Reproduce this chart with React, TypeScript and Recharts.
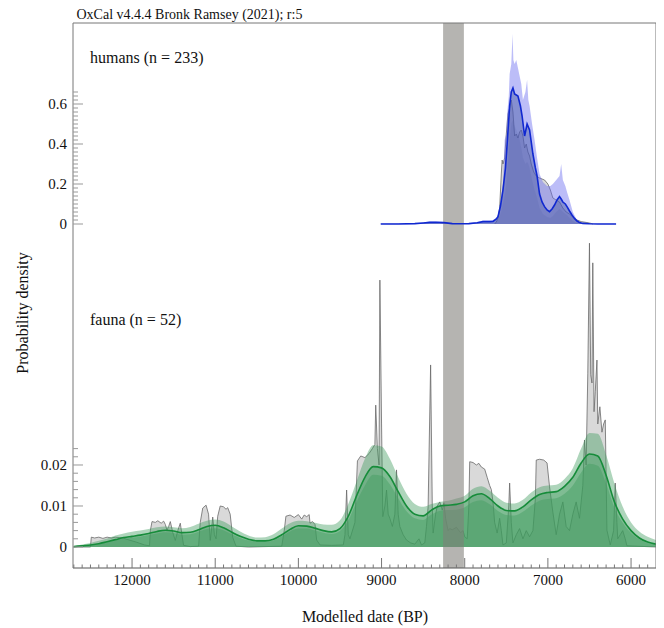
import React from 'react';
import { ComposedChart, Area, Line, XAxis, YAxis, ReferenceArea } from 'recharts';

// ---------- fauna KDE (100-yr grid) ----------
const faunaKdeBP = [
  12700, 12600, 12500, 12400, 12300, 12200, 12100, 12000, 11900, 11800,
  11700, 11600, 11500, 11400, 11300, 11200, 11100, 11000, 10900, 10800,
  10700, 10600, 10500, 10400, 10300, 10200, 10100, 10000, 9900, 9800,
  9700, 9600, 9500, 9400, 9300, 9200, 9100, 9000, 8900, 8800,
  8700, 8600, 8500, 8400, 8300, 8200, 8100, 8000, 7900, 7800,
  7700, 7600, 7500, 7400, 7300, 7200, 7100, 7000, 6900, 6800,
  6700, 6600, 6500, 6400, 6300, 6200, 6100, 6000, 5900, 5800, 5700,
];
const faunaMean = [
  0.0001, 0.0003, 0.0005, 0.0008, 0.0013, 0.0018, 0.0023, 0.0026, 0.0029, 0.0033,
  0.0038, 0.0041, 0.0039, 0.0035, 0.0036, 0.0042, 0.005, 0.0053, 0.0047, 0.0036,
  0.0026, 0.0019, 0.0015, 0.0015, 0.0019, 0.003, 0.0043, 0.0052, 0.0051, 0.0046,
  0.004, 0.0037, 0.0045, 0.0075, 0.0125, 0.017, 0.0196, 0.0193, 0.0172, 0.0135,
  0.01, 0.008, 0.0076, 0.009, 0.01, 0.0102, 0.0104, 0.011, 0.0125, 0.013,
  0.0118, 0.01, 0.0089, 0.0088, 0.0098, 0.0115, 0.0128, 0.0133, 0.0135, 0.0148,
  0.017, 0.0205, 0.0227, 0.0222, 0.0175, 0.011, 0.0068, 0.004, 0.0022, 0.0012, 0.0007,
];
const faunaHi = [
  0.0002, 0.0006, 0.001, 0.0015, 0.0021, 0.0028, 0.0033, 0.0037, 0.004, 0.0044,
  0.0048, 0.005, 0.0048, 0.0046, 0.0049, 0.0057, 0.0064, 0.0067, 0.0062, 0.005,
  0.0038, 0.0028, 0.0023, 0.0024, 0.0031, 0.0045, 0.0058, 0.0064, 0.0063, 0.0059,
  0.0055, 0.0054, 0.0065, 0.0105, 0.016, 0.0215, 0.0248, 0.0245, 0.0215, 0.017,
  0.013, 0.0105, 0.0098, 0.0105, 0.011, 0.0113, 0.0118, 0.0125, 0.0142, 0.0148,
  0.0137, 0.012, 0.0108, 0.0106, 0.0115, 0.0133, 0.0146, 0.015, 0.0152, 0.0166,
  0.0192, 0.024, 0.0278, 0.0276, 0.0225, 0.0155, 0.0098, 0.006, 0.0038, 0.0025, 0.0017,
];
const faunaLo = [
  0.0001, 0.0002, 0.0004, 0.0007, 0.0011, 0.0016, 0.002, 0.0023, 0.0025, 0.0029,
  0.0033, 0.0036, 0.0034, 0.003, 0.0031, 0.0037, 0.0044, 0.0046, 0.0041, 0.0031,
  0.0022, 0.0016, 0.0013, 0.0013, 0.0016, 0.0026, 0.0038, 0.0045, 0.0045, 0.004,
  0.0035, 0.0032, 0.0039, 0.0065, 0.011, 0.015, 0.0176, 0.0174, 0.0153, 0.0119,
  0.0087, 0.007, 0.0066, 0.0079, 0.0088, 0.009, 0.0091, 0.0097, 0.011, 0.0114,
  0.0104, 0.0088, 0.0078, 0.0077, 0.0086, 0.0101, 0.0113, 0.0117, 0.0119, 0.013,
  0.015, 0.0182, 0.0203, 0.0198, 0.0155, 0.0096, 0.0059, 0.0034, 0.0019, 0.001, 0.0006,
];

// ---------- fauna summed probability ----------
const faunaSumBP = [
  12710, 12500, 12490, 12450, 12400, 12350, 12300, 12250, 12200, 12150, 12110, 12050, 11950, 11850,
  11790, 11780, 11760, 11720, 11690, 11650, 11620, 11600, 11580, 11560, 11540, 11510, 11480, 11450,
  11420, 11400, 11380, 11300, 11200, 11180, 11150, 11110, 11080, 11060, 11040, 11030, 11010, 10990,
  10970, 10940, 10900, 10870, 10850, 10820, 10790, 10750, 10600, 10200, 10170, 10150, 10100, 10050,
  10000, 9960, 9930, 9900, 9870, 9860, 9830, 9800, 9780, 9740, 9600, 9460, 9440, 9420, 9400, 9380,
  9320, 9290, 9250, 9200, 9150, 9110, 9080, 9070, 9050, 9030, 9020, 9000, 8985, 8960, 8940, 8920,
  8900, 8870, 8840, 8820, 8800, 8780, 8740, 8700, 8650, 8600, 8550, 8520, 8480, 8460, 8440, 8410,
  8390, 8380, 8350, 8330, 8300, 8270, 8250, 8230, 8200, 8180, 8150, 8100, 8050, 8020, 8000, 7970,
  7950, 7940, 7900, 7860, 7830, 7800, 7760, 7730, 7700, 7680, 7660, 7640, 7610, 7580, 7560, 7540,
  7500, 7470, 7460, 7440, 7420, 7380, 7340, 7300, 7260, 7220, 7180, 7150, 7140, 7100, 7050, 7010,
  6980, 6940, 6900, 6860, 6820, 6780, 6740, 6700, 6660, 6620, 6580, 6560, 6540, 6520, 6500, 6485,
  6470, 6460, 6445, 6430, 6410, 6400, 6375, 6350, 6330, 6310, 6290, 6250, 6210, 6190, 6170, 6160,
  6130, 6100, 6070, 6050, 5700,
];
const faunaSum = [
  0, 0, 0.0024, 0.0022, 0.0024, 0.0021, 0.0024, 0.0022, 0.0024, 0.0023, 0.0022, 0.0018, 0.0012, 0.0005,
  0.0003, 0.004, 0.0062, 0.006, 0.0064, 0.0058, 0.0063, 0.0055, 0.0041, 0.005, 0.0062, 0.0035, 0.0016, 0.004,
  0.0058, 0.003, 0.0004, 0.0001, 0.0002, 0.006, 0.0095, 0.0102, 0.008, 0.0016, 0.005, 0.0073, 0.003, 0.002,
  0.0075, 0.01, 0.0098, 0.0092, 0.0096, 0.008, 0.0024, 0.0002, 0, 0.0002, 0.004, 0.0075, 0.0078, 0.0072,
  0.0079, 0.0068, 0.0078, 0.0074, 0.0079, 0.0058, 0.0062, 0.0055, 0.0017, 0.0005, 0.0004, 0.0005, 0.003, 0.0139, 0.003, 0.002,
  0.006, 0.021, 0.0222, 0.0218, 0.0228, 0.024, 0.025, 0.0346, 0.024, 0.02, 0.0651, 0.03, 0.0074, 0.01, 0.0139, 0.008,
  0.007, 0.005, 0.008, 0.0188, 0.008, 0.005, 0.003, 0.0017, 0.001, 0.0007, 0.002, 0.0005, 0.001, 0.005, 0.0098, 0.0444,
  0.01, 0.0034, 0.008, 0.01, 0.011, 0.009, 0.0108, 0.007, 0.004, 0.0045, 0.0042, 0.0048, 0.0035, 0.004, 0.0025, 0.002,
  0.01, 0.0208, 0.0206, 0.02, 0.0204, 0.0195, 0.019, 0.017, 0.015, 0.014, 0.011, 0.006, 0.0034, 0.007, 0.004, 0.0005,
  0.001, 0.01, 0.0156, 0.006, 0.001, 0.003, 0.0045, 0.002, 0.004, 0.0025, 0.004, 0.012, 0.0212, 0.0214, 0.0212, 0.0205,
  0.0147, 0.0085, 0.003, 0.008, 0.011, 0.005, 0.004, 0.008, 0.011, 0.007, 0.015, 0.0261, 0.02, 0.0424, 0.0741, 0.042,
  0.04, 0.0693, 0.033, 0.038, 0.0456, 0.03, 0.0342, 0.028, 0.03, 0.031, 0.0041, 0.0005, 0.004, 0.0156, 0.006, 0.002,
  0.003, 0.004, 0.002, 0.0003, 0,
];

// ---------- humans KDE ----------
const humansKdeBP = [
  9010, 8800, 8600, 8500, 8420, 8350, 8250, 8150, 8050, 7950, 7850, 7780, 7700, 7660, 7620, 7600,
  7570, 7540, 7510, 7490, 7460, 7440, 7420, 7400, 7380, 7360, 7330, 7310, 7280, 7260, 7250, 7220,
  7180, 7150, 7130, 7100, 7070, 7040, 7010, 6980, 6950, 6920, 6890, 6860, 6840, 6820, 6790, 6770,
  6740, 6710, 6680, 6650, 6620, 6580, 6500, 6400, 6180,
];
const humansMean = [
  0, 0, 0.002, 0.005, 0.008, 0.009, 0.007, 0.002, 0.001, 0.002, 0.006, 0.012, 0.012, 0.013, 0.025, 0.037,
  0.09, 0.17, 0.28, 0.4, 0.59, 0.66, 0.68, 0.65, 0.645, 0.64, 0.59, 0.54, 0.44, 0.48, 0.5, 0.47,
  0.35, 0.28, 0.24, 0.15, 0.11, 0.087, 0.07, 0.062, 0.075, 0.095, 0.12, 0.137, 0.125, 0.11, 0.1, 0.087,
  0.065, 0.045, 0.028, 0.015, 0.008, 0.003, 0.001, 0, 0,
];
const humansBandBP = [
  9010, 8600, 8500, 8420, 8350, 8250, 8150, 8050, 7950, 7850, 7780, 7700, 7660, 7620, 7600, 7570,
  7540, 7520, 7500, 7490, 7470, 7460, 7440, 7425, 7415, 7400, 7380, 7360, 7340, 7320, 7300, 7270,
  7250, 7235, 7220, 7190, 7160, 7130, 7100, 7060, 7010, 6970, 6940, 6900, 6860, 6840, 6820, 6790,
  6770, 6740, 6700, 6670, 6640, 6600, 6500, 6400, 6180,
];
const humansHi = [
  0.002, 0.004, 0.008, 0.012, 0.013, 0.01, 0.004, 0.002, 0.004, 0.01, 0.018, 0.018, 0.02, 0.03, 0.045, 0.11,
  0.2, 0.42, 0.45, 0.55, 0.64, 0.75, 0.8, 0.95, 0.82, 0.8, 0.82, 0.78, 0.74, 0.7, 0.62, 0.66,
  0.72, 0.62, 0.59, 0.5, 0.42, 0.33, 0.25, 0.21, 0.19, 0.19, 0.2, 0.22, 0.24, 0.3, 0.22, 0.19,
  0.16, 0.12, 0.06, 0.035, 0.015, 0.006, 0.002, 0.001, 0.001,
];
const humansLo = [
  0, 0.001, 0.003, 0.005, 0.006, 0.004, 0.001, 0, 0.001, 0.003, 0.007, 0.007, 0.008, 0.015, 0.022, 0.05,
  0.1, 0.14, 0.2, 0.26, 0.35, 0.42, 0.5, 0.52, 0.5, 0.49, 0.47, 0.45, 0.42, 0.38, 0.33, 0.3,
  0.31, 0.3, 0.28, 0.22, 0.17, 0.13, 0.08, 0.05, 0.035, 0.03, 0.04, 0.06, 0.075, 0.07, 0.06, 0.05,
  0.045, 0.03, 0.015, 0.008, 0.004, 0.002, 0, 0, 0,
];

// ---------- humans summed probability ----------
const humansSumBP = [
  7640, 7620, 7600, 7580, 7560, 7550, 7540, 7520, 7500, 7480, 7460, 7440, 7420, 7400, 7380, 7360,
  7340, 7320, 7300, 7280, 7260, 7240, 7220, 7200, 7170, 7140, 7100, 7040, 7000, 6970, 6940, 6900,
  6860, 6820, 6780, 6740, 6700, 6650, 6600, 6540, 6480, 6460,
];
const humansSum = [
  0, 0.01, 0.03, 0.08, 0.25, 0.32, 0.3, 0.33, 0.45, 0.55, 0.58, 0.62, 0.56, 0.44, 0.45, 0.43,
  0.46, 0.47, 0.44, 0.38, 0.4, 0.36, 0.34, 0.3, 0.26, 0.24, 0.23, 0.22, 0.2, 0.17, 0.13, 0.12,
  0.11, 0.08, 0.06, 0.05, 0.035, 0.02, 0.012, 0.008, 0.003, 0,
];

// ---------- axes ----------
const xTickLabels = [12000, 11000, 10000, 9000, 8000, 7000, 6000];
const xMinorTicks = Array.from({ length: 70 }, (_, i) => 5800 + i * 100);
const faunaYLabels = [0, 0.01, 0.02];
const faunaYTicks = Array.from({ length: 13 }, (_, i) => i * 0.002);
const humansYLabels = [0, 0.2, 0.4, 0.6];
const humansYTicks = Array.from({ length: 34 }, (_, i) => i * 0.02);
const event82 = [8260, 8010];

const faunaKde = faunaKdeBP.map((bp, i) => ({ bp, mean: faunaMean[i], hi: faunaHi[i], lo: faunaLo[i] }));
const faunaSummed = faunaSumBP.map((bp, i) => ({ bp, p: faunaSum[i] }));
const humansKde = humansKdeBP.map((bp, i) => ({ bp, mean: humansMean[i] }));
const humansBand = humansBandBP.map((bp, i) => ({ bp, hi: humansHi[i], lo: humansLo[i] }));
const humansSummed = humansSumBP.map((bp, i) => ({ bp, p: humansSum[i] }));

const FONT = "'Liberation Serif', 'Times New Roman', Times, serif";
const AXIS = '#777';
const PLOT_LEFT = 65;

const XTick = (props: any) => {
  const { x, y, payload } = props;
  const v = payload.value;
  const major = xTickLabels.includes(v);
  return (
    <g>
      <line x1={x} x2={x} y1={y} y2={y - (major ? 10 : 3.5)} stroke={AXIS} strokeWidth={1} />
      {major && (
        <text x={x} y={y + 17} textAnchor="middle" fontSize={15} fontFamily={FONT} fill="#111">
          {v}
        </text>
      )}
    </g>
  );
};

const makeYTick = (labels: number[]) => (props: any) => {
  const { y, payload } = props;
  const v = payload.value;
  const lab = labels.find((l) => Math.abs(l - v) < 1e-9);
  const major = lab !== undefined;
  return (
    <g>
      <line x1={PLOT_LEFT} x2={PLOT_LEFT + (major ? 10 : 5)} y1={y} y2={y} stroke="#999" strokeWidth={1} />
      {major && (
        <text x={PLOT_LEFT - 6} y={y + 5} textAnchor="end" fontSize={15} fontFamily={FONT} fill="#111">
          {String(lab)}
        </text>
      )}
    </g>
  );
};

const FaunaTick = makeYTick(faunaYLabels);
const HumansTick = makeYTick(humansYLabels);

const txt: React.CSSProperties = {
  position: 'absolute',
  fontFamily: FONT,
  color: '#111',
  whiteSpace: 'nowrap',
  pointerEvents: 'none',
};

const G = '#3f9a5c';

export default function App() {
  return (
    <div style={{ position: 'relative', width: 656, height: 620 }}>
      <ComposedChart width={656} height={620} margin={{ top: 14, right: 7, bottom: 0, left: 15 }}>
        <XAxis
          xAxisId="b"
          dataKey="bp"
          type="number"
          domain={[5700, 12710]}
          reversed
          allowDataOverflow
          ticks={xMinorTicks}
          interval={0}
          tickSize={0}
          tickMargin={0}
          tick={XTick}
          height={60}
          axisLine={{ stroke: '#555' }}
        />
        <XAxis
          xAxisId="t"
          orientation="top"
          dataKey="bp"
          type="number"
          domain={[5700, 12710]}
          reversed
          allowDataOverflow
          tick={false}
          tickLine={false}
          height={1}
          axisLine={{ stroke: AXIS }}
        />
        <YAxis
          yAxisId="f"
          type="number"
          domain={[-0.005122, 0.1278]}
          allowDataOverflow
          ticks={faunaYTicks}
          interval={0}
          tickSize={0}
          tickMargin={0}
          tick={FaunaTick}
          width={50}
          axisLine={{ stroke: AXIS }}
        />
        <YAxis
          yAxisId="h"
          orientation="right"
          type="number"
          domain={[-1.72, 1.005]}
          allowDataOverflow
          ticks={humansYTicks}
          interval={0}
          tickSize={0}
          tickMargin={0}
          tick={HumansTick}
          width={1}
          axisLine={{ stroke: AXIS }}
        />

        <Area data={faunaSummed} xAxisId="b" yAxisId="f" dataKey="p" type="linear"
          fill="#d9d9d9" fillOpacity={1} stroke="#6a6a6a" strokeWidth={0.8} isAnimationActive={false} />
        <Area data={humansSummed} xAxisId="b" yAxisId="h" dataKey="p" type="linear"
          fill="#d9d9d9" fillOpacity={1} stroke="#6a6a6a" strokeWidth={0.8} isAnimationActive={false} />

        <Area data={faunaKde} xAxisId="b" yAxisId="f" dataKey="hi" type="monotone"
          fill={G} fillOpacity={0.42} stroke="none" isAnimationActive={false} />
        <Area data={faunaKde} xAxisId="b" yAxisId="f" dataKey="mean" type="monotone"
          fill={G} fillOpacity={0.42} stroke="none" isAnimationActive={false} />
        <Area data={faunaKde} xAxisId="b" yAxisId="f" dataKey="lo" type="monotone"
          fill={G} fillOpacity={0.42} stroke="none" isAnimationActive={false} />

        <Area data={humansBand} xAxisId="b" yAxisId="h" dataKey="hi" type="linear"
          fill="#6a6cf0" fillOpacity={0.45} stroke="none" isAnimationActive={false} />
        <Area data={humansKde} xAxisId="b" yAxisId="h" dataKey="mean" type="linear"
          fill="#3a4e9c" fillOpacity={0.42} stroke="none" isAnimationActive={false} />
        <Area data={humansBand} xAxisId="b" yAxisId="h" dataKey="lo" type="linear"
          fill="#2e4590" fillOpacity={0.1} stroke="none" isAnimationActive={false} />

        <Line data={faunaKde} xAxisId="b" yAxisId="f" dataKey="mean" type="monotone"
          stroke="#168c3a" strokeWidth={1.6} dot={false} isAnimationActive={false} />
        <Line data={humansKde} xAxisId="b" yAxisId="h" dataKey="mean" type="linear"
          stroke="#1028d0" strokeWidth={1.6} dot={false} isAnimationActive={false} />

        <ReferenceArea
          xAxisId="b"
          yAxisId="f"
          x1={event82[0]}
          x2={event82[1]}
          fill="#7f7d79"
          fillOpacity={0.58}
          stroke="none"
          ifOverflow="visible"
        />
      </ComposedChart>

      <div style={{ ...txt, left: 68.5, top: 0.3, fontSize: 14, lineHeight: '14px' }}>
        OxCal v4.4.4 Bronk Ramsey (2021); r:5
      </div>
      <div style={{ ...txt, left: 82, top: 41.6, fontSize: 16, lineHeight: '16px' }}>humans (n = 233)</div>
      <div style={{ ...txt, left: 82, top: 303.6, fontSize: 16, lineHeight: '16px' }}>fauna (n = 52)</div>
      <div style={{ ...txt, left: 257, top: 600.6, width: 200, textAlign: 'center', fontSize: 16, lineHeight: '16px' }}>
        Modelled date (BP)
      </div>
      <div
        style={{
          ...txt,
          left: -85.4,
          top: 297,
          width: 200,
          height: 16,
          textAlign: 'center',
          fontSize: 16,
          lineHeight: '16px',
          transform: 'rotate(-90deg)',
        }}
      >
        Probability density
      </div>
    </div>
  );
}
